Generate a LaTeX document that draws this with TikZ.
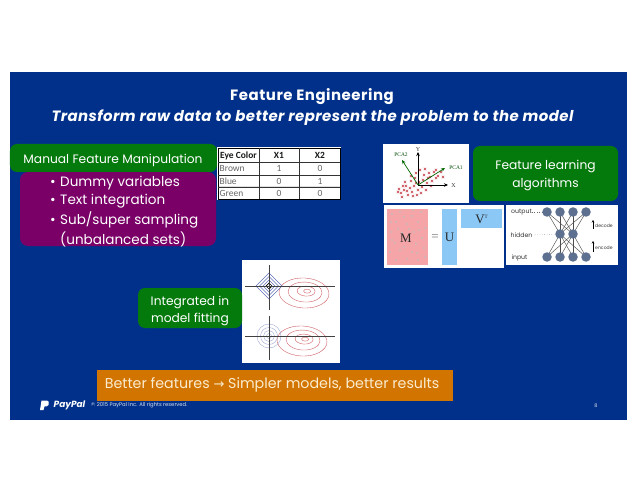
\documentclass[tikz,border=0pt]{standalone}
\usepackage{fontspec}
\setmainfont{Poppins}
\newfontfamily\tabfont{Carlito}
\newfontfamily\serfont{Liberation Serif}
\usetikzlibrary{arrows.meta}
\definecolor{slideblue}{HTML}{01308A}
\definecolor{boxgreen}{HTML}{057A0C}
\definecolor{boxpurple}{HTML}{7A0068}
\definecolor{boxorange}{HTML}{D27500}
\definecolor{cream}{HTML}{FBEBD0}
\definecolor{pinkm}{HTML}{F5A5A8}
\definecolor{blueu}{HTML}{8CC8F5}
\definecolor{nnnode}{HTML}{5D7090}
\definecolor{redc}{HTML}{C8454F}
\definecolor{bluec}{HTML}{6070B8}
\tikzset{
  x=1bp,y=-1bp,
  gbox/.style={fill=boxgreen,rounded corners=7bp,inner sep=0pt},
  gtext/.style={text=white,align=center,font=\fontsize{12.3}{17.5}\selectfont,inner sep=0pt},
  bul/.style={text=white,inner sep=0pt,anchor=west,font=\fontsize{13.6}{15}\selectfont},
  wpanel/.style={fill=white,draw=none},
  nn/.style={circle,fill=nnnode,minimum size=9.5bp,inner sep=0pt},
  nnlink/.style={draw=black!70,line width=.45bp},
  lab/.style={font=\fontsize{6.2}{8}\selectfont,text=black!80,inner sep=0pt},
  tcell/.style={font=\tabfont\fontsize{9.5}{10}\selectfont,text=black!60,inner sep=0pt},
  thead/.style={font=\tabfont\bfseries\fontsize{9.5}{10}\selectfont,text=black!90,inner sep=0pt},
  rcurve/.style={draw=redc!85,line width=.4bp},
  pcaarrow/.style={draw=green!40!black,line width=.7bp,-{Stealth[length=4bp,width=3.5bp]}},
  axisarrow/.style={draw=black,line width=.7bp,-{Stealth[length=4bp,width=3.5bp]}}
}
\begin{document}
\begin{tikzpicture}
\useasboundingbox (0,0) rectangle (638,493);
\fill[white] (0,0) rectangle (638,493);
\fill[slideblue] (10,72) rectangle (627,420);

% titles
\node[text=white,font=\bfseries\fontsize{15}{17}\selectfont\addfontfeature{LetterSpace=3.5},inner sep=0pt] (title) at (312,96.5) {Feature Engineering};
\node[text=white,font=\bfseries\itshape\fontsize{15}{17}\selectfont\addfontfeature{LetterSpace=2.8},inner sep=0pt] (subtitle) at (312.5,117.5) {Transform raw data to better represent the problem to the model};

% purple and green boxes
\fill[boxpurple,rounded corners=8bp] (20,172) rectangle (216,246);
\node[gbox,minimum width=207bp,minimum height=28bp] (manual) at (113.5,158) {};
\node[gtext] (manualt) at (113,160) {Manual Feature Manipulation};
\node[bul] (b1) at (50,183) {\makebox[10bp][l]{•}Dummy variables};
\node[bul] (b2) at (50,201.5) {\makebox[10bp][l]{•}Text integration};
\node[bul] (b3) at (50,220) {\makebox[10bp][l]{•}Sub/super sampling};
\node[bul] (b4) at (60,239) {(unbalanced sets)};

% table
\fill[white] (217,147) rectangle (341,200);
\fill[black!12] (218,186) rectangle (340,188);
\draw[black,line width=.5bp] (218,148) rectangle (340,199);
\foreach \yy in {162,175,187} \draw[black!80,line width=.4bp] (218,\yy) -- (340,\yy);
\foreach \xx in {259,299.5} \draw[black!80,line width=.4bp] (\xx,148) -- (\xx,199);
\node[thead] (h1) at (238.5,155.5) {Eye Color};
\node[thead] (h2) at (279,155.5) {X1};
\node[thead] (h3) at (320,155.5) {X2};
\node[tcell,anchor=west] (r1) at (219.5,168.5) {Brown};
\node[tcell] (r1a) at (279,168.5) {1};
\node[tcell] (r1b) at (320,168.5) {0};
\node[tcell,anchor=west] (r2) at (219.5,181) {Blue};
\node[tcell] (r2a) at (279,181) {0};
\node[tcell] (r2b) at (320,181) {1};
\node[tcell,anchor=west] (r3) at (219.5,193.5) {Green};
\node[tcell] (r3a) at (279,193.5) {0};
\node[tcell] (r3b) at (320,193.5) {0};

% PCA panel
\fill[wpanel] (383,144) rectangle (469,203);
\coordinate (o) at (418,185);
\coordinate (xe) at (448,185);
\coordinate (ye) at (418,152);
\coordinate (p1) at (445,168);
\coordinate (p2) at (402,160);
\foreach \a/\b in {401/193,404/190,408/195,412/192,399/189,406/186,410/188,414/186,418/190,422/187,426/190,411/181,415/178,419/182,423/180,427/183,431/186,424/175,428/178,432/181,436/178,429/173,434/172,438/176,441/172,443/177,420/170,425/169,416/173,407/191,413/196,403/186,421/193,430/177,436/170,411/176,405/182,416/183,402/197,398/192,417/195}
  \draw[redc,line width=.45bp] (\a-1.2,\b-1.2) -- (\a+1.2,\b+1.2) (\a-1.2,\b+1.2) -- (\a+1.2,\b-1.2);
\draw[axisarrow] (o) -- (xe);
\draw[axisarrow] (o) -- (ye);
\draw[pcaarrow] (o) -- (p1);
\draw[pcaarrow] (o) -- (p2);
\node[font=\serfont\fontsize{5.5}{6}\selectfont,text=green!30!black,inner sep=0pt] (pca2) at (401,155) {PCA2};
\node[font=\serfont\fontsize{5.5}{6}\selectfont,text=green!30!black,inner sep=0pt] (pca1) at (456,168) {PCA1};
\node[font=\serfont\fontsize{6}{6}\selectfont,text=black!80,inner sep=0pt] (ylab) at (418,149.5) {Y};
\node[font=\serfont\fontsize{6}{6}\selectfont,text=black!80,inner sep=0pt] (xlab) at (453.5,185.5) {X};

% feature learning
\node[gbox,minimum width=145bp,minimum height=55bp] (fl) at (545.5,173.5) {};
\node[gtext] (flt) at (545.5,175.5) {Feature learning\\algorithms};

% SVD panel
\fill[wpanel] (384,205) rectangle (504,268);
\fill[pinkm] (387,209) rectangle (428,265);
\foreach \a/\b in {392/214,400/212,412/216,421/212,396/222,407/224,418/222,425/228,391/232,402/233,414/232,422/238,395/243,408/240,390/252,400/250,412/252,424/248,396/260,407/259,418/260,425/257,416/244,404/217,391/222,413/210,398/229,409/229,419/230,392/240,417/253,404/247}
  \fill[black!25,opacity=.75] (\a,\b) circle (1.2);
\fill[blueu] (442,209) rectangle (457,265);
\fill[blueu] (461,209) rectangle (502,228);
\node[font=\serfont\fontsize{13}{14}\selectfont,text=black!85,inner sep=0pt] (m) at (406,238) {M};
\node[font=\serfont\fontsize{13}{14}\selectfont,text=black!55,inner sep=0pt] (eq) at (435,238) {=};
\node[font=\serfont\fontsize{13}{14}\selectfont,text=black!85,inner sep=0pt] (u) at (449.5,237) {U};
\node[font=\serfont\fontsize{13}{14}\selectfont,text=black!85,inner sep=0pt] (v) at (481.5,219) {V\raisebox{5bp}{\fontsize{5}{6}\selectfont T}};

% NN panel
\fill[wpanel] (506,205) rectangle (618,265);
\foreach \i/\xx in {1/547,2/560,3/573,4/586} {
  \coordinate (o\i) at (\xx,212);
  \coordinate (in\i) at (\xx,257);
}
\coordinate (h1n) at (560,234);
\coordinate (h2n) at (573,234);
\foreach \i in {1,2,3,4} \foreach \j in {h1n,h2n} {
  \draw[nnlink] (o\i) -- (\j);
  \draw[nnlink] (in\i) -- (\j);
}
\foreach \i/\xx in {1/547,2/560,3/573,4/586} {
  \node[nn] (no\i) at (\xx,212) {};
  \node[nn] (ni\i) at (\xx,257) {};
}
\node[nn] (nh1) at (560,234) {};
\node[nn] (nh2) at (573,234) {};
\node[lab] (outl) at (521.5,212) {output};
\node[lab] (hidl) at (521.5,235) {hidden};
\node[lab] (inl) at (519.5,257.5) {input};
\draw[black!60,line width=.4bp,dotted] (outl.east) -- (no1);
\draw[black!60,line width=.4bp,dotted] (hidl.east) -- (nh1);
\coordinate (da) at (593,229);
\coordinate (db) at (593,220);
\coordinate (ea) at (593,252);
\coordinate (eb) at (593,241);
\draw[black,line width=.5bp,-{Stealth[length=2.5bp,width=2.5bp]}] (da) -- (db);
\draw[black,line width=.5bp,-{Stealth[length=2.5bp,width=2.5bp]}] (ea) -- (eb);
\node[lab,anchor=west,font=\fontsize{4.6}{6}\selectfont] (decl) at (595,225.5) {decode};
\node[lab,anchor=west,font=\fontsize{4.6}{6}\selectfont] (encl) at (595,247.5) {encode};

% integrated
\fill[wpanel] (242,260) rectangle (340,363);
\node[gbox,minimum width=104bp,minimum height=40bp] (im) at (190,308) {};
\node[gtext] (imt) at (190,311) {Integrated in\\model fitting};
\coordinate (c1) at (269,286);
\coordinate (c2) at (269,336);
\begin{scope}[shift={(304,293)},rotate=-3]
\draw[rcurve] (0,0) ellipse (25 and 15);
\draw[rcurve] (1,-1) ellipse (17 and 10);
\draw[rcurve] (2,-2) ellipse (9 and 5);
\draw[rcurve] (3,-2) ellipse (3.5 and 2);
\end{scope}
\begin{scope}[shift={(302,341)},rotate=-3]
\draw[rcurve] (0,0) ellipse (25 and 15);
\draw[rcurve] (1,-1) ellipse (17 and 10);
\draw[rcurve] (2,-2) ellipse (9 and 5);
\draw[rcurve] (3,-2) ellipse (3.5 and 2);
\end{scope}
\foreach \r in {13,9.5,6} \draw[bluec,line width=.4bp] (269-\r,286) -- (269,286-\r) -- (269+\r,286) -- (269,286+\r) -- cycle;
\draw[black,line width=.7bp] (269,283) -- ++(3,3) -- ++(-3,3) -- ++(-3,-3) -- cycle;
\foreach \r in {12,8.5,5.5,2.5} \draw[bluec!60,line width=.4bp] (c2) circle (\r);
\draw[black!75,line width=.5bp] (245,286) -- (335,286) (269,265) -- (269,310);
\draw[black!75,line width=.5bp] (245,336) -- (335,336) (269,316) -- (269,360);

% orange banner
\node[fill=boxorange,minimum width=356bp,minimum height=31bp,inner sep=0pt] (banner) at (275,385.5) {};
\node[text=cream,inner sep=0pt,font=\fontsize{14.3}{16}\selectfont] (bannert) at (272,385) {Better features {\fontspec{DejaVu Sans}\fontsize{13}{15}\selectfont →} Simpler models, better results};

% footer
\fill[white] (41.5,400.5) -- (46,400.5) .. controls (49,400.5) and (49.5,403) .. (48.5,405) .. controls (47.5,406.5) and (46,406.5) .. (44.5,406.5) -- (43.5,410) -- (40,410) -- cycle;
\node[text=white,font=\bfseries\itshape\fontsize{9}{10}\selectfont,inner sep=0pt,anchor=west] (logo) at (53.5,405) {PayPal};
\node[text=white!85!slideblue,font=\fontsize{5.3}{6}\selectfont,inner sep=0pt,anchor=west] (copy) at (91,405.5) {© 2015 PayPal Inc. All rights reserved.};
\node[text=white!85!slideblue,font=\fontsize{5}{6}\selectfont,inner sep=0pt] (pg) at (596,405.5) {8};
\end{tikzpicture}
\end{document}
